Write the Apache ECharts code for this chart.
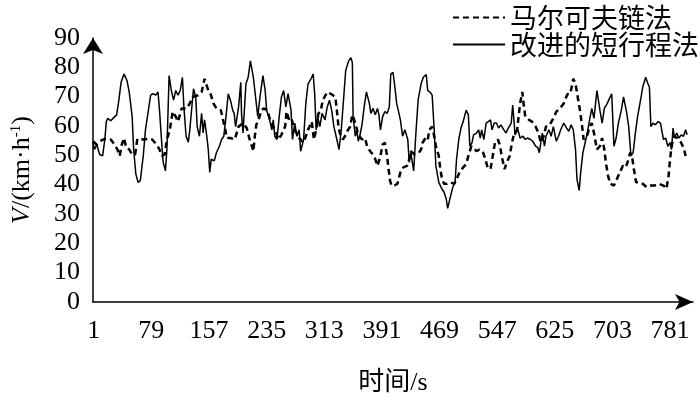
<!DOCTYPE html>
<html>
<head>
<meta charset="utf-8">
<script src="https://cdn.jsdelivr.net/npm/echarts@6/dist/echarts.min.js"></script>
<style>
html, body { margin: 0; padding: 0; background: #fff; }
#main { width: 700px; height: 401px; }
</style>
</head>
<body>
<div id="main"></div>
<script>
// x tick labels (s)
const xTicks = [1, 79, 157, 235, 313, 391, 469, 547, 625, 703, 781]

// 马尔可夫链法 (dashed)
const markovT = [0, 5, 9, 16, 24, 29, 33, 36, 39, 42, 45, 49, 53, 57, 60, 62, 68, 75, 80, 86, 90, 93, 97, 100, 104, 106, 108, 112, 115, 120, 127, 131, 135, 142, 147, 151, 156, 159, 163, 167, 173, 176, 179, 181, 186, 192, 197, 203, 208, 212, 215, 217, 219, 221, 224, 228, 231, 236, 239, 244, 248, 251, 255, 260, 262, 266, 269, 273, 279, 285, 291, 296, 299, 303, 305, 308, 311, 313, 317, 323, 328, 330, 332, 334, 338, 341, 344, 348, 351, 355, 359, 364, 368, 371, 375, 379, 382, 385, 389, 392, 395, 398, 400, 402, 404, 408, 412, 416, 420, 425, 428, 430, 435, 441, 444, 446, 450, 453, 455, 459, 461, 464, 468, 470, 472, 475, 479, 483, 489, 492, 496, 501, 505, 508, 512, 515, 519, 523, 528, 531, 534, 538, 541, 544, 548, 551, 553, 557, 560, 564, 567, 570, 574, 576, 578, 581, 583, 585, 590, 594, 599, 603, 606, 610, 613, 618, 623, 627, 632, 637, 642, 646, 650, 653, 656, 659, 662, 664, 669, 672, 675, 678, 682, 686, 689, 692, 694, 697, 700, 705, 709, 713, 717, 721, 724, 727, 730, 732, 735, 740, 744, 749, 754, 760, 766, 772, 776, 779, 781, 783, 786, 791, 796, 800, 802]
const markovV = [54.8, 53.7, 54.8, 55.6, 55.4, 53.7, 52, 49.8, 53.7, 55.9, 52.6, 52, 50.3, 50.3, 55.6, 55.6, 55.4, 55.6, 55.4, 53.7, 52, 49.8, 50.3, 55.4, 58.7, 62.1, 64.9, 63.2, 61.5, 66, 66, 67.7, 69.9, 70.5, 71.6, 76.1, 72.1, 71, 67.7, 66, 65.4, 62.1, 58.7, 55.9, 55.9, 55.4, 59.8, 61, 59.3, 55.4, 53.1, 51.4, 56.5, 60.4, 62.1, 65.4, 66, 65.4, 62.6, 59.8, 57.6, 55.4, 57, 59.8, 64.9, 61.5, 62.1, 58.7, 55.9, 54.3, 58.7, 61.5, 55.4, 59.8, 64.3, 64.9, 68.8, 68.2, 71.6, 70.8, 69.9, 65.4, 60.4, 57.6, 55.4, 56.5, 58.2, 59.8, 63.8, 61, 57, 55.4, 55.9, 53.1, 51.4, 50.3, 48.7, 46.4, 49.8, 53.7, 54.3, 49.8, 45.3, 41.4, 39.7, 39.7, 40.3, 44.2, 45.9, 46.4, 48.7, 51.4, 50.3, 50.9, 52, 54.3, 55.9, 55.2, 58.7, 59.8, 57.6, 53.1, 49.8, 45.3, 42.5, 40.3, 40.3, 40.8, 40.3, 41.9, 44.2, 45.9, 47, 49.8, 53.1, 52.6, 51.4, 52, 50.9, 48.7, 45.9, 45.3, 49.8, 54.3, 55.4, 53.1, 49.8, 45.3, 47.6, 49.8, 54.3, 57.6, 58.7, 63.2, 67.7, 71.6, 67.1, 63.2, 62.1, 61.5, 59.8, 57.6, 54.3, 56.5, 59.8, 60.4, 62.6, 64.9, 66, 67.7, 70.8, 71, 76.1, 74.4, 69.9, 65.4, 59.8, 55.4, 57, 59.8, 61, 57.6, 52, 53.1, 55.9, 52, 47.6, 43.1, 40.3, 39.7, 41.9, 44.2, 46.4, 45.9, 48.1, 50.9, 48.7, 45.3, 40.8, 40.8, 40.3, 39.2, 39.7, 39.7, 40.3, 39.7, 38.6, 43.1, 48.7, 53.1, 56.5, 55.9, 54.3, 52, 49.8]

// 改进的短行程法 (solid)
const shortT = [0, 2, 5, 9, 13, 16, 18, 20, 24, 27, 32, 35, 38, 42, 46, 49, 51, 53, 55, 58, 61, 64, 68, 71, 75, 78, 81, 85, 88, 90, 93, 95, 98, 100, 103, 106, 109, 112, 115, 118, 121, 123, 126, 129, 131, 136, 139, 141, 144, 147, 149, 151, 154, 156, 158, 160, 164, 167, 171, 174, 177, 180, 183, 186, 189, 191, 193, 197, 200, 201, 203, 207, 210, 213, 217, 220, 223, 226, 230, 233, 235, 239, 242, 244, 246, 249, 252, 255, 258, 261, 264, 268, 270, 273, 276, 279, 281, 285, 288, 291, 295, 298, 300, 302, 304, 307, 310, 314, 317, 320, 323, 326, 330, 333, 336, 339, 342, 346, 349, 351, 352, 355, 357, 359, 361, 364, 367, 370, 374, 376, 379, 382, 385, 387, 389, 392, 395, 398, 401, 403, 406, 408, 411, 416, 419, 422, 426, 428, 430, 434, 437, 440, 444, 447, 451, 453, 456, 459, 462, 464, 468, 472, 475, 478, 480, 483, 487, 490, 492, 495, 498, 501, 505, 508, 510, 513, 515, 519, 522, 524, 526, 529, 532, 535, 538, 540, 543, 546, 549, 552, 556, 559, 562, 566, 568, 570, 571, 575, 578, 582, 585, 588, 592, 595, 599, 602, 604, 608, 611, 613, 617, 620, 623, 627, 630, 633, 637, 641, 644, 647, 650, 653, 655, 658, 660, 663, 666, 669, 672, 675, 678, 682, 686, 689, 692, 696, 699, 702, 705, 708, 711, 715, 718, 722, 725, 728, 731, 734, 737, 741, 744, 748, 751, 753, 755, 758, 761, 765, 768, 772, 775, 778, 781, 783, 785, 787, 790, 793, 796, 799, 802, 804]
const shortV = [54.3, 52, 53.7, 50.3, 49.8, 55.4, 61.5, 62.6, 61.8, 62.6, 63.8, 68.8, 74.9, 77.7, 75.5, 71.6, 71, 63.2, 52, 43.6, 40.8, 41.4, 49.8, 58.7, 65.4, 70.5, 71, 70.5, 71.6, 65.4, 54.3, 47.6, 44.7, 52, 77.2, 72.1, 68.8, 72.1, 70.5, 72.1, 76.6, 66.5, 56.5, 54.5, 58.7, 72.7, 69.9, 59.8, 56.5, 64.3, 57.6, 62.1, 56.5, 52, 44.2, 48.7, 48.1, 50.9, 53.1, 55.4, 56.5, 63.2, 71, 68.8, 65.4, 64.3, 59.8, 66.5, 74.9, 64.3, 57.6, 74.4, 76.6, 82.2, 76.6, 69.9, 63.2, 69.9, 77.2, 72.1, 65.4, 62.1, 58.7, 62.1, 56.5, 55.4, 63.2, 69.9, 72.1, 66.5, 71, 65.4, 55.4, 61, 56.5, 58.7, 51.4, 55.4, 67.7, 74.4, 76.1, 77.7, 71, 58.7, 63.2, 59.8, 64.3, 62.1, 66.5, 68.8, 65.4, 59.8, 55.4, 52, 58.7, 68.8, 78.9, 82.2, 83.3, 81.6, 63.2, 56.5, 58.7, 54.8, 56.5, 60.4, 66.5, 71.6, 67.7, 64.3, 66, 63.8, 66, 63.8, 58.7, 63.2, 64.9, 64.3, 66.5, 77.7, 78.3, 74.4, 67.7, 62.1, 56.5, 58.7, 55.4, 47.6, 50.9, 44.7, 57.6, 68.8, 74.4, 76.6, 77.5, 72.1, 71.6, 70.5, 57.6, 46.4, 40.8, 38.6, 37.5, 35.2, 31.9, 35.2, 39.2, 40.8, 48.7, 55.4, 59.3, 61.5, 65.4, 63.8, 53.1, 54.3, 57, 57.6, 58.7, 55.9, 58.7, 55.4, 61, 61.5, 62.1, 58.7, 61, 61, 59.3, 60.4, 58.7, 57.6, 59.3, 61, 67.1, 61, 57, 58.7, 55.9, 56.5, 55.4, 55.9, 55.4, 54.8, 53.1, 52.6, 50.9, 57.6, 53.1, 56.5, 58.7, 56.5, 59.8, 54.8, 56.5, 58.7, 61, 59.3, 58.2, 60.4, 58.7, 52, 41.9, 38, 44.2, 50.9, 54.3, 57.6, 62.1, 66, 62.6, 72.1, 65.4, 61, 66, 67.7, 69.4, 71, 53.1, 55.9, 61, 65.4, 69.9, 64.9, 59.8, 49.8, 50.9, 57.6, 63.2, 68.8, 73.3, 76.6, 74.4, 73.3, 59.8, 61, 60.4, 61.5, 61, 55.4, 55.9, 53.1, 54.3, 52, 59.3, 55.9, 57.6, 55.9, 57, 56.5, 58.7, 57]

const serif = 'Liberation Serif, Noto Sans CJK SC'
const cjk = 'Noto Sans CJK SC'

function pairs(ts, vs) {
  return ts.map((t, i) => [t, vs[i]])
}

const chart = echarts.init(document.getElementById('main'))
chart.setOption({
  animation: false,
  backgroundColor: '#fff',
  grid: { left: 93, right: 7, top: 38, bottom: 96 },
  legend: {
    orient: 'vertical',
    left: 452,
    top: 4,
    padding: 0,
    itemGap: 0,
    itemWidth: 52,
    itemHeight: 14,
    itemStyle: { opacity: 0 },
    textStyle: { fontFamily: cjk, fontSize: 27, color: '#000', lineHeight: 26 },
    data: ['马尔可夫链法', '改进的短行程法']
  },
  xAxis: {
    type: 'value',
    min: 0,
    max: 812,
    name: '时间/s',
    nameLocation: 'middle',
    nameGap: 68,
    nameTextStyle: { fontFamily: serif, fontSize: 26, color: '#000' },
    splitLine: { show: false },
    axisTick: { show: false },
    axisLine: {
      lineStyle: { color: '#000', width: 1.5 },
      symbol: ['none', 'arrow'],
      symbolSize: [12, 18]
    },
    axisLabel: {
      customValues: xTicks,
      margin: 16,
      fontFamily: serif,
      fontSize: 26,
      color: '#000'
    }
  },
  yAxis: {
    type: 'value',
    min: 0,
    max: 90,
    interval: 10,
    name: '{i|V}/(km·h{s|-1})',
    nameLocation: 'middle',
    nameRotate: 90,
    nameGap: 58,
    nameTextStyle: {
      fontFamily: serif,
      fontSize: 26,
      color: '#000',
      rich: {
        i: { fontFamily: serif, fontSize: 26, fontStyle: 'italic', color: '#000' },
        s: { fontFamily: serif, fontSize: 15, color: '#000', verticalAlign: 'top' }
      }
    },
    splitLine: { show: false },
    axisTick: { show: false },
    axisLine: {
      show: true,
      lineStyle: { color: '#000', width: 1.5 },
      symbol: ['none', 'arrow'],
      symbolSize: [15, 16]
    },
    axisLabel: { margin: 13, fontFamily: serif, fontSize: 26, color: '#000' }
  },
  series: [
    {
      name: '马尔可夫链法',
      type: 'line',
      symbol: 'none',
      data: pairs(markovT, markovV),
      lineStyle: { color: '#000', width: 2.5, type: [6, 4] },
      itemStyle: { color: '#000' }
    },
    {
      name: '改进的短行程法',
      type: 'line',
      symbol: 'none',
      data: pairs(shortT, shortV),
      lineStyle: { color: '#000', width: 1.5, type: 'solid' },
      itemStyle: { color: '#000' }
    }
  ]
})
</script>
</body>
</html>
